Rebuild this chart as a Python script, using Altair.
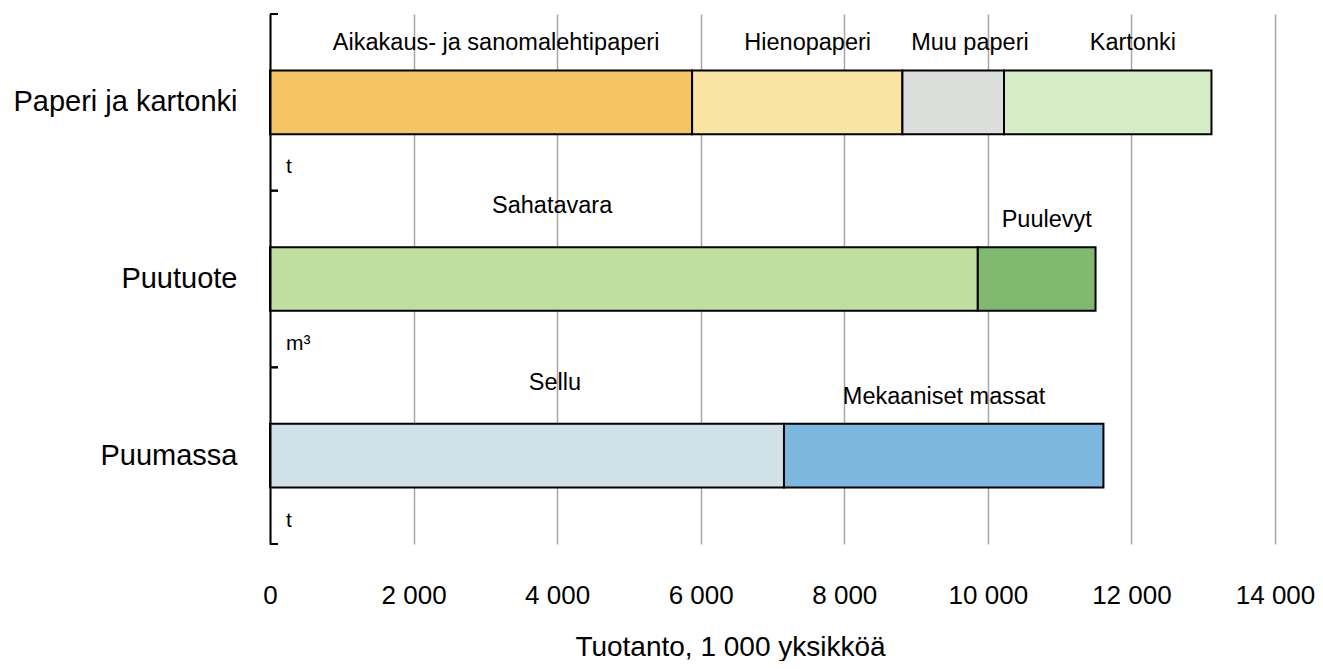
import altair as alt
import pandas as pd

FONT = "Liberation Sans"

categories = ["Paperi ja kartonki", "Puutuote", "Puumassa"]
units = ["t", "m³", "t"]

segment_group = ["Paperi ja kartonki", "Paperi ja kartonki", "Paperi ja kartonki", "Paperi ja kartonki",
                 "Puutuote", "Puutuote", "Puumassa", "Puumassa"]
segments = ["Aikakaus- ja sanomalehtipaperi", "Hienopaperi", "Muu paperi", "Kartonki",
            "Sahatavara", "Puulevyt", "Sellu", "Mekaaniset massat"]
values = [5880, 2930, 1415, 2890, 9860, 1640, 7160, 4450]
label_x = [3150, 7490, 9750, 12020, 3930, 10820, 3970, 9390]
label_level = ["low", "low", "low", "low", "high", "low", "high", "low"]
colors = ["#f5c463", "#fae4a4", "#dcdedb", "#d5ecc4", "#bedf9f", "#80b96f", "#d0e2e8", "#7cb7df"]
x_ticks = [0, 2000, 4000, 6000, 8000, 10000, 12000, 14000]

df = pd.DataFrame({"group": segment_group, "segment": segments, "value": values,
                   "lx": label_x, "level": label_level})
df["end"] = df.groupby("group")["value"].cumsum()
df["start"] = df["end"] - df["value"]

units_df = pd.DataFrame({"group": categories, "unit": units})

x_scale = alt.Scale(domain=[0, 14000], nice=False, zero=True)
x_axis = alt.Axis(values=x_ticks, grid=True, gridColor="#a6a6a6", gridWidth=1.5,
                  domain=False, ticks=False, labelFontSize=26, labelPadding=38,
                  labelColor="black", labelFont=FONT, labelFlush=False, labelOverlap=False,
                  labelExpr="replace(format(datum.value, ','), ',', ' ')",
                  titleFontSize=28, titlePadding=25, titleFontWeight="normal",
                  titleColor="black", titleFont=FONT, titleX=460, titleAlign="center")
x_title = "Tuotanto,  1 000 yksikköä"

y_scale = alt.Scale(domain=categories, paddingInner=0, paddingOuter=0)
y_axis = alt.Axis(domain=True, domainColor="black", domainWidth=2, ticks=False, grid=False,
                  labelFontSize=29, labelPadding=33, labelColor="black", labelFont=FONT,
                  labelLimit=400, minExtent=262, maxExtent=262, zindex=1)


def y_enc(**kw):
    return alt.Y("group:N", sort=categories, scale=y_scale, axis=y_axis, title=None, **kw)


bars = alt.Chart(df).mark_bar(height={"band": 0.36}, stroke="black", strokeWidth=2).encode(
    x=alt.X("start:Q", scale=x_scale, axis=x_axis, title=x_title),
    x2="end:Q",
    y=y_enc(),
    color=alt.Color("segment:N", scale=alt.Scale(domain=segments, range=colors), legend=None),
)

lab_low = alt.Chart(df).transform_filter(alt.datum.level == "low").mark_text(
    fontSize=23.5, dy=-59, font=FONT, color="black", baseline="middle"
).encode(
    x=alt.X("lx:Q", scale=x_scale, axis=x_axis, title=x_title),
    y=y_enc(),
    text="segment:N",
)

lab_high = alt.Chart(df).transform_filter(alt.datum.level == "high").mark_text(
    fontSize=23.5, dy=-73, font=FONT, color="black", baseline="middle"
).encode(
    x=alt.X("lx:Q", scale=x_scale, axis=x_axis, title=x_title),
    y=y_enc(),
    text="segment:N",
)

unit_text = alt.Chart(units_df).mark_text(
    fontSize=21, dx=16, dy=65, align="left", font=FONT, color="black", baseline="middle"
).encode(
    x=alt.datum(0, scale=x_scale),
    y=y_enc(),
    text="unit:N",
)

tick_top = alt.Chart(units_df).mark_rule(color="black", strokeWidth=2).encode(
    x=alt.datum(0, scale=x_scale),
    x2=alt.value(8),
    y=y_enc(bandPosition=0),
)

tick_bottom = alt.Chart(units_df).mark_rule(color="black", strokeWidth=2).encode(
    x=alt.datum(0, scale=x_scale),
    x2=alt.value(8),
    y=y_enc(bandPosition=1),
)

chart = alt.layer(bars, lab_low, lab_high, unit_text, tick_top, tick_bottom).properties(
    width=1307, height=653,
    autosize=alt.AutoSizeParams(type="fit", contains="padding"),
    padding={"left": 0, "top": 5, "right": 0, "bottom": 0},
).configure_view(stroke=None)

chart.save("out.html", embed_options={"renderer": "svg", "actions": False})
